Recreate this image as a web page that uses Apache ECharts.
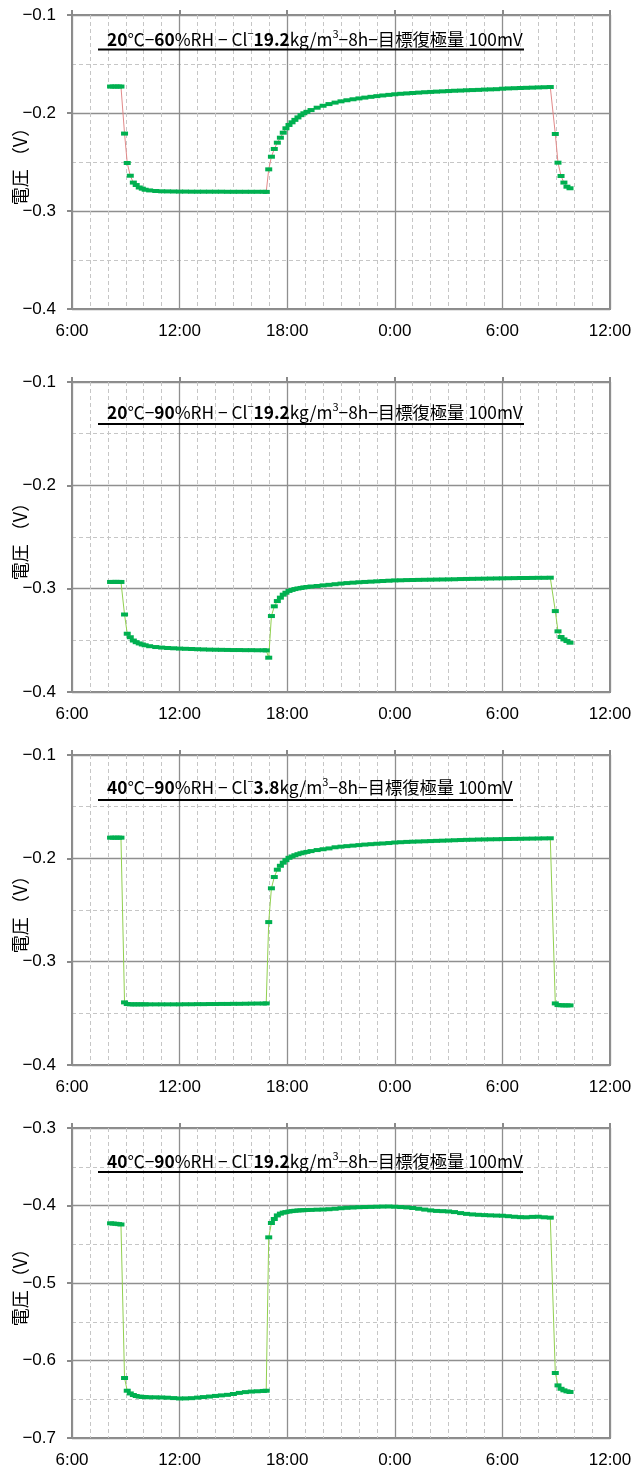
<!DOCTYPE html>
<html><head><meta charset="utf-8">
<script src="https://cdn.jsdelivr.net/npm/echarts@6/dist/echarts.min.js"></script>
<style>html,body{margin:0;padding:0;background:#fff}#c{width:644px;height:1472px}</style>
</head><body><div id="c"></div>
<script>
// time in hours: 6 = 6:00 day 1, 30 = 6:00 day 2, 36 = 12:00 day 2
const hours = [
  8.15, 8.3, 8.45, 8.6, 8.73,
  8.93, 9.08, 9.25, 9.42, 9.58, 9.75, 9.92, 10.08,
  10.33, 10.67, 11, 11.33, 11.67, 12, 12.33, 12.67, 13, 13.33, 13.67, 14, 14.33, 14.67, 15, 15.33, 15.67, 16, 16.33, 16.67, 16.83,
  16.97, 17.12, 17.28, 17.45, 17.62, 17.78, 17.93, 18.1, 18.27, 18.43, 18.6, 18.77, 18.93, 19.1,
  19.33, 19.67, 20, 20.33, 20.67, 21, 21.33, 21.67, 22, 22.33, 22.67, 23, 23.33, 23.67, 24, 24.33, 24.67, 25, 25.33, 25.67, 26, 26.33, 26.67, 27, 27.33, 27.67, 28, 28.33, 28.67, 29, 29.33, 29.67,
  30, 30.33, 30.67, 31, 31.33, 31.67, 32, 32.33, 32.67,
  32.95, 33.1, 33.27, 33.43, 33.6, 33.77
];
const volt1 = [
  -0.173, -0.173, -0.173, -0.173, -0.173,
  -0.221, -0.251, -0.264, -0.271, -0.2735, -0.276, -0.2772, -0.2783,
  -0.279, -0.2796, -0.2799, -0.28, -0.2801, -0.2802, -0.2802, -0.2803, -0.2803, -0.2803, -0.2803, -0.2803, -0.2803, -0.2804, -0.2804, -0.2804, -0.2804, -0.2804, -0.2804, -0.2804, -0.2805,
  -0.2575, -0.2446, -0.2367, -0.2303, -0.2252, -0.2201, -0.2156, -0.2122, -0.2095, -0.207, -0.2045, -0.2022, -0.2003, -0.1988,
  -0.197, -0.1946, -0.1926, -0.1909, -0.1894, -0.1881, -0.187, -0.186, -0.1851, -0.1843, -0.1835, -0.1828, -0.1821, -0.1815, -0.1809, -0.1804, -0.18, -0.1796, -0.1792, -0.1788, -0.1785, -0.1782, -0.1779, -0.1776, -0.1773, -0.1771, -0.1768, -0.1766, -0.1764, -0.1761, -0.1759, -0.1757,
  -0.1752, -0.1749, -0.1747, -0.1745, -0.1743, -0.1741, -0.1739, -0.1737, -0.1735,
  -0.2214, -0.2507, -0.2643, -0.271, -0.2752, -0.2768
];
const volt2 = [
  -0.2935, -0.2935, -0.2934, -0.2935, -0.2935,
  -0.325, -0.3436, -0.347, -0.3502, -0.3518, -0.353, -0.354, -0.3548,
  -0.3557, -0.3565, -0.357, -0.3574, -0.3577, -0.358, -0.3582, -0.3584, -0.3586, -0.3588, -0.359, -0.3591, -0.3592, -0.3593, -0.3594, -0.3594, -0.3595, -0.3595, -0.3596, -0.3596, -0.3597,
  -0.3668, -0.3265, -0.3171, -0.312, -0.3087, -0.3058, -0.3039, -0.3022, -0.3012, -0.3004, -0.2998, -0.2993, -0.2988, -0.2984,
  -0.2979, -0.2974, -0.2968, -0.2963, -0.2957, -0.2951, -0.2946, -0.2942, -0.2938, -0.2935, -0.2932, -0.2929, -0.2926, -0.2923, -0.292, -0.2919, -0.2917, -0.2916, -0.2915, -0.2914, -0.2913, -0.2912, -0.2911, -0.291, -0.2909, -0.2907, -0.2906, -0.2905, -0.2904, -0.2903, -0.2902, -0.2901,
  -0.29, -0.2899, -0.2898, -0.2897, -0.2897, -0.2896, -0.2895, -0.2895, -0.2894,
  -0.3217, -0.3413, -0.3468, -0.3491, -0.3507, -0.3523
];
const volt3 = [
  -0.18, -0.18, -0.18, -0.18, -0.18,
  -0.3394, -0.341, -0.3413, -0.3413, -0.3413, -0.3413, -0.3413, -0.3413,
  -0.3413, -0.3413, -0.3413, -0.3413, -0.3413, -0.3413, -0.3412, -0.3412, -0.3411, -0.3411, -0.341, -0.341, -0.3409, -0.3409, -0.3408, -0.3408, -0.3407, -0.3406, -0.3405, -0.3405, -0.3404,
  -0.2617, -0.229, -0.2181, -0.211, -0.2072, -0.2042, -0.2018, -0.1995, -0.1982, -0.197, -0.196, -0.1951, -0.1944, -0.1938,
  -0.193, -0.192, -0.1912, -0.1904, -0.1893, -0.1887, -0.1882, -0.1877, -0.1872, -0.1867, -0.1863, -0.1859, -0.1856, -0.1852, -0.1847, -0.1844, -0.1841, -0.1839, -0.1837, -0.1835, -0.1833, -0.1831, -0.1829, -0.1827, -0.1825, -0.1823, -0.1821, -0.182, -0.1818, -0.1817, -0.1816, -0.1815,
  -0.1814, -0.1813, -0.1812, -0.1811, -0.181, -0.1809, -0.1808, -0.1807, -0.1806,
  -0.3404, -0.342, -0.3422, -0.3423, -0.3423, -0.3423
];
const volt4 = [
  -0.423, -0.4233, -0.4236, -0.424, -0.4245,
  -0.6226, -0.639, -0.6425, -0.6445, -0.6458, -0.6466, -0.647, -0.6472,
  -0.6474, -0.6475, -0.6477, -0.648, -0.6485, -0.649, -0.6489, -0.6486, -0.6479, -0.6472, -0.6465, -0.6457, -0.645, -0.6443, -0.6432, -0.6418, -0.6408, -0.6401, -0.6397, -0.6393, -0.639,
  -0.4411, -0.4226, -0.4174, -0.4128, -0.4105, -0.4092, -0.4085, -0.4078, -0.4072, -0.4068, -0.4064, -0.4062, -0.406, -0.4058,
  -0.4057, -0.4054, -0.4052, -0.4048, -0.4042, -0.4035, -0.403, -0.4026, -0.4022, -0.402, -0.4018, -0.4016, -0.4014, -0.4013, -0.4016, -0.402, -0.4025, -0.4032, -0.4042, -0.4053, -0.4063, -0.407, -0.4073, -0.4077, -0.4085, -0.4098, -0.4108, -0.4115, -0.412, -0.4124, -0.4127, -0.413,
  -0.4132, -0.4138, -0.4145, -0.415, -0.4152, -0.4147, -0.4145, -0.4152, -0.4157,
  -0.6161, -0.6321, -0.6365, -0.6385, -0.6398, -0.6406
];
const titleTexts = [
  '{b|20}{n|℃−}{b|60}{n|%RH − Cl}{s|−}{b|19.2}{n|kg/m}{s|3}{n|−8h−目標復極量 100mV}',
  '{b|20}{n|℃−}{b|90}{n|%RH − Cl}{s|−}{b|19.2}{n|kg/m}{s|3}{n|−8h−目標復極量 100mV}',
  '{b|40}{n|℃−}{b|90}{n|%RH − Cl}{s|−}{b|3.8}{n|kg/m}{s|3}{n|−8h−目標復極量 100mV}',
  '{b|40}{n|℃−}{b|90}{n|%RH − Cl}{s|−}{b|19.2}{n|kg/m}{s|3}{n|−8h−目標復極量 100mV}'
];
const yMins = [-0.4, -0.4, -0.4, -0.7];
const yMaxs = [-0.1, -0.1, -0.1, -0.3];
const xTickHours = [6, 12, 18, 24, 30, 36];
const yName = '電圧 （V）';

const volts = [volt1, volt2, volt3, volt4];
const lineColors = ['#E28A8A', '#92D050', '#92D050', '#92D050'];
const gridBoxes = [{top: 15, height: 294}, {top: 382, height: 310}, {top: 755, height: 310}, {top: 1128, height: 310}];
const titleTops = [28, 401, 776, 1150];
const underline = [{y: 49.5, x2: 524}, {y: 424, x2: 524}, {y: 800, x2: 513}, {y: 1172, x2: 523}];

const GRAY = '#8a8a8a';
const chart = echarts.init(document.getElementById('c'), null, {renderer: 'canvas'});
const fontJP = '"Noto Sans CJK JP", sans-serif';
const fontLat = '"Liberation Sans", Arial, sans-serif';

const grid = gridBoxes.map(g => ({left: 72, right: 34, top: g.top, height: g.height, containLabel: false, outerBoundsMode: 'none', show: true, borderColor: GRAY, borderWidth: 2, backgroundColor: 'transparent'}));

const xAxis = [];
gridBoxes.forEach((g, i) => {
  xAxis.push({
    type: 'value', gridIndex: i, min: xTickHours[0], max: xTickHours[xTickHours.length - 1], interval: 6, position: 'bottom',
    axisLine: {show: false}, axisTick: {show: false},
    axisLabel: {color: '#000', fontSize: 17, fontFamily: fontLat, margin: 14, formatter: v => (v % 24) + ':00'},
    splitLine: {show: true, lineStyle: {color: '#8f8f8f', width: 1.3}},
    minorTick: {show: false, splitNumber: 6},
    minorSplitLine: {show: true, lineStyle: {color: '#c6c6c6', width: 1, type: [4, 3]}}
  });
});
gridBoxes.forEach((g, i) => {
  xAxis.push({
    type: 'value', gridIndex: i, min: 6, max: 36, interval: 6, position: 'top',
    axisLine: {show: false}, axisLabel: {show: false}, splitLine: {show: false},
    axisTick: {show: true, length: 5, lineStyle: {color: GRAY, width: 2}}
  });
});
const yAxis = gridBoxes.map((g, i) => ({
  type: 'value', gridIndex: i, min: yMins[i], max: yMaxs[i], interval: 0.1,
  name: yName, nameLocation: 'middle', nameRotate: 90, nameGap: 43, nameMoveOverlap: false,
  nameTextStyle: {fontSize: 18, fontFamily: fontJP, color: '#000'},
  axisLine: {show: false},
  axisTick: {show: true, length: 5, lineStyle: {color: GRAY, width: 2}},
  axisLabel: {color: '#000', fontSize: 17, fontFamily: fontLat, margin: 16, formatter: v => v.toFixed(1).replace('-', '−')},
  splitLine: {show: true, lineStyle: {color: '#8f8f8f', width: 1.3}},
  minorTick: {show: false, splitNumber: 2},
  minorSplitLine: {show: true, lineStyle: {color: '#c6c6c6', width: 1, type: [4, 3]}}
}));

const rich = {
  n: {fontSize: 17.3, fontFamily: fontJP, fontWeight: 'normal', color: '#000', lineHeight: 22},
  b: {fontSize: 17.3, fontFamily: fontJP, fontWeight: 'bold', color: '#000', lineHeight: 22},
  s: {fontSize: 11, fontFamily: fontJP, fontWeight: 'normal', color: '#000', lineHeight: 12, verticalAlign: 'top'}
};
const title = titleTexts.map((t, i) => ({text: t, left: 107, top: titleTops[i], padding: 0, textStyle: {fontWeight: 'normal', rich: rich}}));

const graphic = underline.map(u => ({type: 'line', shape: {x1: 98, y1: u.y, x2: u.x2, y2: u.y}, style: {stroke: '#000', lineWidth: 2}, z: 10, silent: true}));

const series = volts.map((v, i) => ({
  type: 'line', xAxisIndex: i, yAxisIndex: i,
  data: hours.map((h, k) => [h, v[k]]),
  symbol: 'rect', symbolSize: [7, 4], showSymbol: true, showAllSymbol: true,
  itemStyle: {color: '#00B050'},
  lineStyle: {color: lineColors[i], width: 1},
  animation: false, silent: true, z: 3
}));

chart.setOption({animation: false, backgroundColor: '#fff', title, grid, xAxis, yAxis, series, graphic});
</script>
</body></html>
